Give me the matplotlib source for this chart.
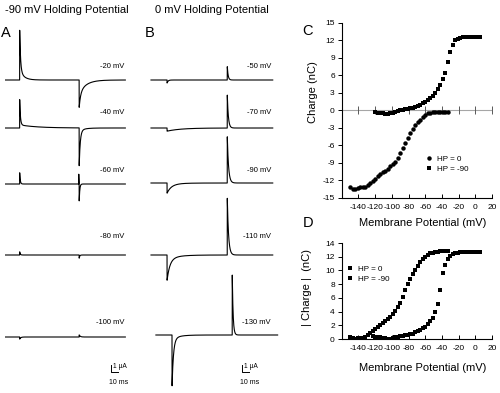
import numpy as np
import matplotlib
matplotlib.use('Agg')
import matplotlib.pyplot as plt

plt.rcParams['font.family'] = ['Liberation Sans', 'DejaVu Sans']
plt.rcParams['axes.unicode_minus'] = False

W, H = 500, 393
PX_PER_MS = 0.7
PX_PER_UA = 7.0

# ---------------- Panel A: -90 mV holding potential (currents, uA) ----------
A_labels = ['-20 mV', '-40 mV', '-60 mV', '-80 mV', '-100 mV']
A_on_fast = [5.7, 3.6, 1.6, 0.45, -0.3]
A_on_fast_tau = [1.2, 1.0, 0.8, 0.8, 1.5]
A_on_slow = [1.4, 0.45, 0.0, 0.0, 0.0]
A_on_slow_tau = [6.0, 25.0, 10.0, 10.0, 10.0]
A_off_fast = [-2.0, -5.0, -2.6, -0.45, 0.3]
A_off_fast_tau = [2.0, 1.5, 0.8, 0.8, 1.5]
A_off_slow = [-1.9, -0.4, 0.0, 0.0, 0.0]
A_off_slow_tau = [10.0, 8.0, 10.0, 10.0, 10.0]
A_off_blip = [0.0, 0.0, 1.4, 0.0, 0.0]
A_t_on, A_t_off, A_t_end = 21.0, 106.0, 172.0

# ---------------- Panel B: 0 mV holding potential ---------------------------
B_labels = ['-50 mV', '-70 mV', '-90 mV', '-110 mV', '-130 mV']
B_on_fast = [-0.43, -0.45, -1.2, -3.0, -7.0]
B_on_fast_tau = [1.5, 20.0, 6.0, 4.0, 2.0]
B_on_slow = [0.0, 0.0, -0.25, -0.6, -0.6]
B_on_slow_tau = [10.0, 10.0, 15.0, 15.0, 10.0]
B_off_fast = [1.9, 4.7, 6.6, 8.1, 9.3]
B_off_fast_tau = [1.2, 1.5, 1.8, 1.8, 1.2]
B_t_on, B_t_off, B_t_end = 23.0, 109.0, 174.0
B_shift = [0.0, 0.0, 0.0, 0.0, 7.0]

SCALE_UA = 1.0
SCALE_MS = 10.0

# ---------------- Panel C: charge vs membrane potential ---------------------
C_V_hp0 = [-150, -147, -144, -141, -138, -135, -132, -129, -126, -123, -120,
           -117, -114, -111, -108, -105, -102, -99, -96, -93, -90, -87, -84,
           -81, -78, -75, -72, -69, -66, -63, -60, -57, -54, -51, -48, -45,
           -42, -39, -36, -33]
C_Q_hp0 = [-13.2, -13.4, -13.5, -13.3, -13.2, -13.2, -13.1, -12.8, -12.5,
           -12.1, -11.7, -11.3, -10.9, -10.6, -10.3, -10.0, -9.6, -9.2, -8.9,
           -8.2, -7.3, -6.5, -5.6, -4.8, -3.9, -3.2, -2.5, -2.0, -1.6, -1.2,
           -0.8, -0.5, -0.35, -0.25, -0.2, -0.2, -0.2, -0.2, -0.2, -0.2]
C_V_hp90 = [-120, -117, -114, -111, -108, -105, -102, -99, -96, -93, -90, -87,
            -84, -81, -78, -75, -72, -69, -66, -63, -60, -57, -54, -51, -48,
            -45, -42, -39, -36, -33, -30, -27, -24, -21, -18, -15, -12, -9,
            -6, -3, 0, 3, 6]
C_Q_hp90 = [-0.3, -0.35, -0.45, -0.5, -0.55, -0.55, -0.45, -0.35, -0.2, -0.1,
            0.0, 0.1, 0.2, 0.3, 0.4, 0.5, 0.65, 0.8, 0.95, 1.2, 1.5, 1.8,
            2.15, 2.55, 3.0, 3.6, 4.4, 5.4, 6.5, 8.3, 10.0, 11.3, 12.0, 12.3,
            12.45, 12.55, 12.55, 12.6, 12.6, 12.55, 12.6, 12.65, 12.6]
C_yticks = [15, 12, 9, 6, 3, 0, -3, -6, -9, -12, -15]
X_ticks = [-140, -120, -100, -80, -60, -40, -20, 0, 20]

# ---------------- Panel D: |charge| vs membrane potential -------------------
D_V_hp0 = C_V_hp0
D_Q_hp0 = [0.3, 0.2, 0.0, 0.1, 0.2, 0.2, 0.3, 0.6, 0.9, 1.2, 1.5, 1.75, 2.0,
           2.3, 2.6, 2.9, 3.25, 3.6, 4.1, 4.6, 5.2, 6.1, 7.1, 8.0, 8.8, 9.5,
           10.1, 10.7, 11.2, 11.7, 12.0, 12.3, 12.5, 12.6, 12.7, 12.75, 12.8,
           12.8, 12.85, 12.8]
D_V_hp90 = [-123, -120, -117, -114, -111, -108, -105, -102, -99, -96, -93,
            -90, -87, -84, -81, -78, -75, -72, -69, -66, -63, -60, -57, -54,
            -51, -48, -45, -42, -39, -36, -33, -30, -27, -24, -21, -18, -15,
            -12, -9, -6, -3, 0, 3, 6]
D_Q_hp90 = [0.4, 0.3, 0.3, 0.25, 0.2, 0.1, 0.05, 0.0, 0.2, 0.3, 0.35, 0.4,
            0.5, 0.55, 0.6, 0.7, 0.8, 0.95, 1.1, 1.3, 1.55, 1.8, 2.2, 2.6, 3.1,
            3.9, 5.1, 7.1, 9.6, 10.8, 11.7, 12.1, 12.4, 12.5, 12.6, 12.65,
            12.7, 12.7, 12.7, 12.7, 12.7, 12.7, 12.75, 12.7]
D_yticks = [0, 2, 4, 6, 8, 10, 12, 14]

# =========================== drawing =======================================
fig = plt.figure(figsize=(W / 100, H / 100), dpi=100)


def fx(x):
    return x / W


def fy(y):
    return 1 - y / H


def ftext(x, y, s, **kw):
    fig.text(fx(x), fy(y), s, **kw)


def transient(t, t0, amp, tau):
    d = t - t0
    out = np.zeros_like(t)
    m = d >= 0
    out[m] = amp * np.exp(-d[m] / tau)
    return out


# ---- Panel A traces
A_base_px = [80, 128, 184, 255, 337]
A_label_px = [67, 113, 170, 237, 322]
axA = fig.add_axes([fx(5), 0, 121 / W, 1])
axA.set_xlim(0, 121 / PX_PER_MS)
axA.set_ylim(-H / PX_PER_UA, 0)
axA.axis('off')
tA = np.arange(0, A_t_end, 0.1)
for i in range(5):
    y = (transient(tA, A_t_on, A_on_fast[i], A_on_fast_tau[i])
         + transient(tA, A_t_on, A_on_slow[i], A_on_slow_tau[i])
         + transient(tA, A_t_off - 0.6, A_off_blip[i], 0.3)
         + transient(tA, A_t_off, A_off_fast[i], A_off_fast_tau[i])
         + transient(tA, A_t_off, A_off_slow[i], A_off_slow_tau[i]))
    axA.plot(tA, y - A_base_px[i] / PX_PER_UA, color='black', lw=0.8)
    ftext(124, A_label_px[i], A_labels[i], fontsize=5.5, ha='right', va='center')

# ---- Panel B traces
B_base_px = [80, 128, 183, 255, 335]
B_label_px = [67, 113, 170, 237, 322]
axB = fig.add_axes([fx(151), 0, 122 / W, 1])
axB.set_xlim(0, 122 / PX_PER_MS)
axB.set_ylim(-H / PX_PER_UA, 0)
axB.axis('off')
for i in range(5):
    s = B_shift[i]
    tB = np.arange(s, B_t_end + s, 0.1)
    y = (transient(tB, B_t_on + s, B_on_fast[i], B_on_fast_tau[i])
         + transient(tB, B_t_on + s, B_on_slow[i], B_on_slow_tau[i])
         + transient(tB, B_t_off + s, B_off_fast[i], B_off_fast_tau[i]))
    axB.plot(tB, y - B_base_px[i] / PX_PER_UA, color='black', lw=0.8,
             clip_on=False)
    ftext(271, B_label_px[i], B_labels[i], fontsize=5.5, ha='right', va='center')


# ---- scale bars
def scale_bar(ax, x0_px, corner_px_x, corner_px_y):
    xc = (corner_px_x - x0_px) / PX_PER_MS
    yc = -corner_px_y / PX_PER_UA
    ax.plot([xc, xc, xc + SCALE_MS], [yc + SCALE_UA, yc, yc],
            color='black', lw=0.7, clip_on=False)


scale_bar(axA, 5, 111, 372)
scale_bar(axB, 151, 242, 372)
for cx in (111, 242):
    ftext(cx + 2, 367, '1 \u03bcA', fontsize=4.8, ha='left', va='center')
    ftext(cx + 8, 382, '10 ms', fontsize=5, ha='center', va='center')

# ---- titles and panel letters
ftext(5, 10, '-90 mV Holding Potential', fontsize=8, ha='left', va='center')
ftext(155, 10, '0 mV Holding Potential', fontsize=8, ha='left', va='center')
ftext(1, 33, 'A', fontsize=10.5, ha='left', va='center')
ftext(145, 33, 'B', fontsize=10.5, ha='left', va='center')
ftext(302, 31, 'C', fontsize=10.5, ha='left', va='center')
ftext(303, 223, 'D', fontsize=10.5, ha='left', va='center')


def style_xy(ax):
    for sp in ('top', 'right'):
        ax.spines[sp].set_visible(False)
    for sp in ('left', 'bottom'):
        ax.spines[sp].set_linewidth(0.8)
    ax.set_xlim(-160, 20)
    ax.set_xticks(X_ticks)
    ax.tick_params(axis='x', direction='in', length=3, width=0.7,
                   labelsize=6, pad=4)
    ax.tick_params(axis='y', direction='out', length=3, width=0.7,
                   labelsize=6, pad=2)


MS_SQ = 3.0
MS_CI = 3.2

# ---- Panel C
axC = fig.add_axes([fx(341.7), fy(198), 150.3 / W, 175 / H])
style_xy(axC)
axC.set_ylim(-15, 15)
axC.set_yticks(C_yticks)
axC.axhline(0, color='0.65', lw=0.8, zorder=1)
axC.plot(X_ticks, [0] * len(X_ticks), ls='none', marker='|', ms=6, mew=0.7,
         color='0.35', zorder=1)
axC.plot(C_V_hp0, C_Q_hp0, ls='none', marker='o', ms=MS_CI, mew=0,
         color='black', label='HP = 0')
axC.plot(C_V_hp90, C_Q_hp90, ls='none', marker='s', ms=MS_SQ, mew=0,
         color='black', label='HP = -90')
axC.legend(loc='upper left', bbox_to_anchor=(fx(427), fy(155)),
           bbox_transform=fig.transFigure, frameon=False, fontsize=5.8,
           handlelength=0.6, handletextpad=0.6, labelspacing=0.35,
           borderpad=0, borderaxespad=0, markerscale=1.0)
ftext(313, 92, 'Charge (nC)', fontsize=8, rotation=90, ha='center', va='center')
ftext(423, 223, 'Membrane Potential (mV)', fontsize=8, ha='center', va='center')

# ---- Panel D
axD = fig.add_axes([fx(341.7), fy(339), 150.3 / W, 96 / H])
style_xy(axD)
axD.set_ylim(0, 14)
axD.set_yticks(D_yticks)
axD.plot(D_V_hp0, D_Q_hp0, ls='none', marker='s', ms=MS_SQ, mew=0,
         color='black', label='HP = 0')
axD.plot(D_V_hp90, D_Q_hp90, ls='none', marker='s', ms=MS_SQ, mew=0,
         color='black', label='HP = -90')
axD.legend(loc='upper left', bbox_to_anchor=(fx(348), fy(265)),
           bbox_transform=fig.transFigure, frameon=False, fontsize=5.8,
           handlelength=0.6, handletextpad=0.6, labelspacing=0.35,
           borderpad=0, borderaxespad=0, markerscale=1.0)
ftext(307, 287, '| Charge |  (nC)', fontsize=8, rotation=90, ha='center',
      va='center')
ftext(423, 368, 'Membrane Potential (mV)', fontsize=8, ha='center', va='center')

fig.savefig('out.png', dpi=100)
